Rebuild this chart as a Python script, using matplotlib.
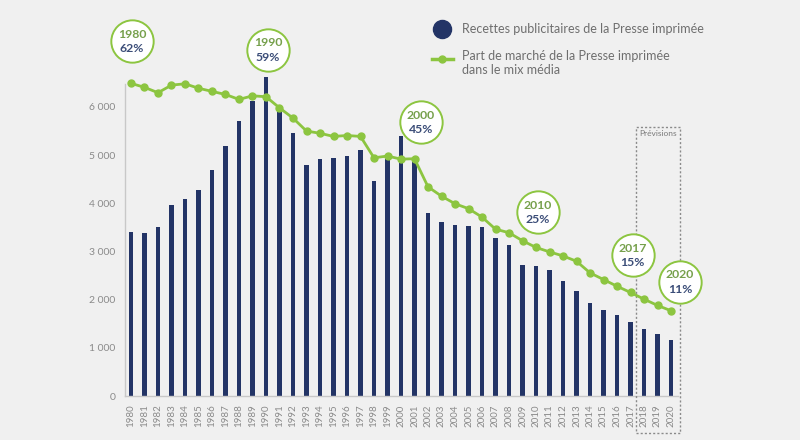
import matplotlib.pyplot as plt
import matplotlib.transforms as mtransforms
from matplotlib.patches import Rectangle

plt.rcParams["font.family"] = ["Lato", "DejaVu Sans"]

# Data
years = list(range(1980, 2021))
recettes = [3410, 3390, 3510, 3970, 4100, 4280, 4700, 5190, 5700, 6120,
            6620, 5920, 5460, 4790, 4910, 4950, 4990, 5100, 4460, 4930,
            5390, 4910, 3790, 3620, 3550, 3530, 3510, 3290, 3130, 2710,
            2690, 2620, 2390, 2170, 1930, 1790, 1680, 1530, 1400, 1280, 1160]
part_marche = [62.0, 61.1, 59.9, 61.6, 61.9, 60.9, 60.2, 59.5, 58.4, 59.2,
               59.0, 56.5, 54.2, 51.3, 50.8, 50.1, 50.3, 50.1, 45.3, 45.7,
               45.0, 45.1, 38.8, 36.7, 35.0, 33.9, 32.0, 29.3, 28.5, 26.7,
               25.2, 24.2, 23.3, 22.1, 19.5, 18.0, 16.5, 15.1, 13.6, 12.2, 11.0]
bubble_years = [1980, 1990, 2000, 2010, 2017, 2020]
bubble_labels = ["62%", "59%", "45%", "25%", "15%", "11%"]
# bubble offsets from the line point, in pixels (dx, dy up)
bubble_offsets = [(1, 42), (2, 47), (20, 37), (2, 35), (2, 37), (9, 29)]
yticks = [0, 1000, 2000, 3000, 4000, 5000, 6000]

NAVY = "#233466"
GREEN = "#8cc540"
YEAR_COL = "#76a04c"
PCT_COL = "#3b4d78"
GREY = "#8a8a8a"
BG = "#f0f0f0"

W, H = 800, 440
fig = plt.figure(figsize=(W / 100, H / 100), dpi=100, facecolor=BG)

left_px, bottom_px, top_px = 125, 396, 60
x0 = 1980 - 6 / 13.5
x1 = 2020.5
right_px = 131 + (x1 - 1980) * 13.5
ax = fig.add_axes([left_px / W, (H - bottom_px) / H,
                   (right_px - left_px) / W, (bottom_px - top_px) / H])
ax.set_facecolor("none")
px_per_unit = 48.17 / 1000
ax.set_xlim(x0, x1)
ax.set_ylim(0, (bottom_px - top_px) / px_per_unit)

ax.bar(years, recettes, width=0.3, color=NAVY, zorder=2)

for s in ["top", "right"]:
    ax.spines[s].set_visible(False)
for s in ["left", "bottom"]:
    ax.spines[s].set_color("#c8c8c8")
    ax.spines[s].set_linewidth(1)
ax.spines["left"].set_bounds(0, (bottom_px - 84) / px_per_unit)

ax.set_yticks(yticks)
ax.set_yticklabels([f"{v:,}".replace(",", " ") for v in yticks])
ax.set_xticks(years)
ax.set_xticklabels([str(y) for y in years], rotation=90)
ax.tick_params(axis="y", length=0, pad=7, labelsize=7.5, labelcolor=GREY)
ax.tick_params(axis="x", length=0, pad=6, labelsize=7, labelcolor=GREY)

# secondary axis for the market share
ax2 = ax.twinx()
ax2.set_facecolor("none")
pct_px = 4.459
zero_px = 359.8
ax2.set_ylim((zero_px - bottom_px) / pct_px, (zero_px - top_px) / pct_px)
ax2.axis("off")
ax2.plot(years, part_marche, color=GREEN, lw=2, marker="o", ms=5,
         zorder=3, clip_on=False)

# bubbles
for yr, lab, (dx, dy) in zip(bubble_years, bubble_labels, bubble_offsets):
    val = part_marche[years.index(yr)]
    off = mtransforms.ScaledTranslation(dx / 100, dy / 100, fig.dpi_scale_trans)
    ax2.plot([yr], [val], marker="o", ms=30.5, mfc="white", mec=GREEN, mew=1.4,
             transform=ax2.transData + off, clip_on=False, zorder=5)
    ax2.annotate(str(yr), (yr, val), xytext=(dx * 0.72, (dy + 7) * 0.72),
                 textcoords="offset points", ha="center", va="center",
                 fontsize=8.8, fontweight="bold", color=YEAR_COL, zorder=6,
                 annotation_clip=False)
    ax2.annotate(lab, (yr, val), xytext=(dx * 0.72, (dy - 7.5) * 0.72),
                 textcoords="offset points", ha="center", va="center",
                 fontsize=8.8, fontweight="bold", color=PCT_COL, zorder=6,
                 annotation_clip=False)

# forecast box
box = Rectangle((2017.41, -768), 2020.67 - 2017.41, 5585 + 768, fill=False,
                ec="#8a8a8a", lw=1, ls=(0, (1.5, 1.5)), clip_on=False, zorder=4)
ax.add_patch(box)
ax.text((2017.41 + 2020.67) / 2, 5585 - 60, "Prévisions", ha="center", va="top",
        fontsize=6, color="#7a7a7a", zorder=4)

# legend
lax = fig.add_axes([0, 0, 1, 1])
lax.set_xlim(0, W)
lax.set_ylim(H, 0)
lax.axis("off")
lax.plot([442], [29], marker="o", ms=13, color=NAVY)
lax.plot([432, 453], [59, 59], color=GREEN, lw=2.5)
lax.plot([442], [59], marker="o", ms=5, color=GREEN)
lax.text(462, 29, "Recettes publicitaires de la Presse imprimée", va="center",
         fontsize=9, color="#6e6e6e")
lax.text(462, 63, "Part de marché de la Presse imprimée\ndans le mix média",
         va="center", fontsize=9, color="#6e6e6e", linespacing=1.15)

fig.savefig("out.png", dpi=100, facecolor=BG)
